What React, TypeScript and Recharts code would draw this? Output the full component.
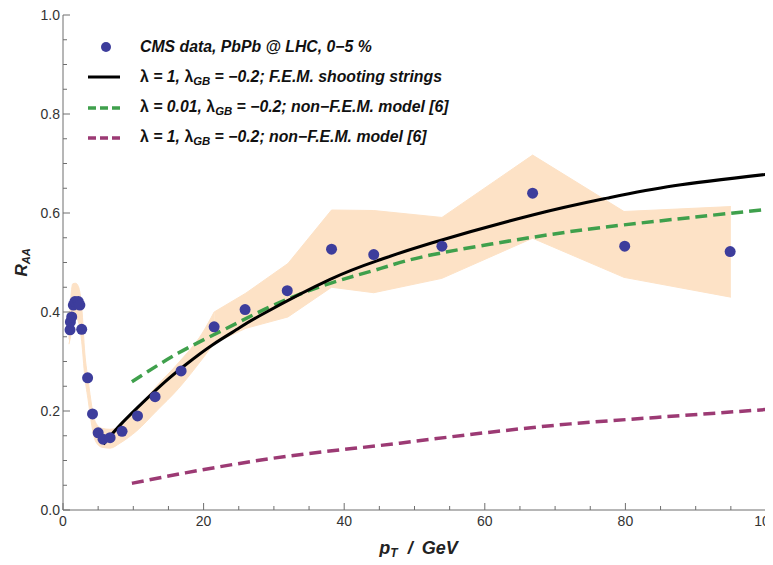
import { ComposedChart, XAxis, YAxis, Line, Area, Scatter } from 'recharts';

// CMS points (pT in GeV, R_AA)
const cmsPt = [1.0, 1.05, 1.24, 1.47, 1.7, 2.18, 2.4, 2.66, 3.5, 4.2, 5.0, 5.7, 6.7, 8.4, 10.6, 13.1, 16.8, 21.5, 25.9, 31.9, 38.2, 44.2, 53.9, 66.8, 79.9, 94.9];
const cmsRaa = [0.364, 0.38, 0.39, 0.414, 0.421, 0.421, 0.414, 0.365, 0.267, 0.194, 0.156, 0.143, 0.146, 0.159, 0.19, 0.229, 0.281, 0.37, 0.405, 0.443, 0.527, 0.516, 0.533, 0.64, 0.533, 0.522];

// uncertainty band, low pT part (smooth)
const bandLowPt = [0.85, 1.0, 1.4, 1.8, 2.2, 2.66, 3.1, 3.6, 4.1, 4.6, 5.5, 6.7, 8.1, 10.5, 13.3, 16.4, 19.8, 21.5];
const bandLowLo = [0.335, 0.345, 0.37, 0.39, 0.38, 0.34, 0.27, 0.22, 0.17, 0.14, 0.127, 0.125, 0.135, 0.16, 0.2, 0.245, 0.305, 0.337];
const bandLowHi = [0.345, 0.4, 0.457, 0.458, 0.451, 0.41, 0.317, 0.26, 0.209, 0.178, 0.165, 0.163, 0.168, 0.205, 0.25, 0.297, 0.357, 0.4];

// uncertainty band, high pT part (straight segments)
const bandHighPt = [21.5, 26, 32, 38.2, 44.2, 53.9, 66.8, 79.8, 95];
const bandHighLo = [0.337, 0.367, 0.39, 0.45, 0.439, 0.468, 0.549, 0.47, 0.43];
const bandHighHi = [0.4, 0.438, 0.498, 0.606, 0.605, 0.591, 0.717, 0.603, 0.613];

// F.E.M. shooting strings, lambda = 1
const femPt = [5.74, 8.35, 11.7, 14.5, 17.4, 21.2, 25, 28.3, 38, 45.2, 52.3, 66.8, 77.4, 86.9, 100];
const femRaa = [0.133, 0.175, 0.222, 0.259, 0.293, 0.333, 0.367, 0.395, 0.466, 0.506, 0.539, 0.596, 0.63, 0.655, 0.678];

// non-F.E.M. model, lambda = 0.01
const greenPt = [9.8, 16.4, 23, 30, 38, 45.2, 52.3, 66.8, 79.8, 100];
const greenRaa = [0.259, 0.317, 0.365, 0.414, 0.458, 0.488, 0.515, 0.551, 0.576, 0.607];

// non-F.E.M. model, lambda = 1
const purplePt = [9.8, 17.4, 29.6, 47.9, 60, 72.2, 84.4, 100];
const purpleRaa = [0.054, 0.075, 0.104, 0.135, 0.156, 0.174, 0.187, 0.203];

const xTicks = [0, 5, 10, 15, 20, 25, 30, 35, 40, 45, 50, 55, 60, 65, 70, 75, 80, 85, 90, 95, 100];
const yTicks = [0, 0.05, 0.1, 0.15, 0.2, 0.25, 0.3, 0.35, 0.4, 0.45, 0.5, 0.55, 0.6, 0.65, 0.7, 0.75, 0.8, 0.85, 0.9, 0.95, 1.0];

const cmsData = cmsPt.map((x, i) => ({ x, y: cmsRaa[i] }));
const bandLowData = bandLowPt.map((x, i) => ({ x, band: [bandLowLo[i], bandLowHi[i]] }));
const bandHighData = bandHighPt.map((x, i) => ({ x, band: [bandHighLo[i], bandHighHi[i]] }));
const femData = femPt.map((x, i) => ({ x, y: femRaa[i] }));
const greenData = greenPt.map((x, i) => ({ x, y: greenRaa[i] }));
const purpleData = purplePt.map((x, i) => ({ x, y: purpleRaa[i] }));

const FONT = '"Liberation Sans", Arial, sans-serif';
const AXIS = '#6e6e6e';
const LABEL = '#333';
const BAND = '#fde2c6';

const isMajorX = (v: number) => v % 20 === 0;
const isMajorY = (v: number) => Math.abs(v * 5 - Math.round(v * 5)) < 1e-6;

const BottomTick = ({ x, y, payload }: any) => {
  const major = isMajorX(payload.value);
  return (
    <g>
      <line x1={x} x2={x} y1={y} y2={y - (major ? 7 : 4)} stroke={AXIS} />
      {major && (
        <text x={x} y={y + 16} textAnchor="middle" fontSize={14} fontFamily={FONT} fill={LABEL}>
          {payload.value}
        </text>
      )}
    </g>
  );
};

const TopTick = ({ x, y, payload }: any) => {
  const major = isMajorX(payload.value);
  return <line x1={x} x2={x} y1={y} y2={y + (major ? 7 : 4)} stroke={AXIS} />;
};

const LeftTick = ({ x, y, payload }: any) => {
  const major = isMajorY(payload.value);
  return (
    <g>
      <line x1={x} x2={x + (major ? 7 : 4)} y1={y} y2={y} stroke={AXIS} />
      {major && (
        <text x={x - 3} y={y + 5} textAnchor="end" fontSize={14} fontFamily={FONT} fill={LABEL}>
          {payload.value.toFixed(1)}
        </text>
      )}
    </g>
  );
};

const RightTick = ({ x, y, payload }: any) => {
  const major = isMajorY(payload.value);
  return <line x1={x} x2={x - (major ? 7 : 4)} y1={y} y2={y} stroke={AXIS} />;
};

const XTitle = ({ viewBox }: any) => (
  <text
    x={viewBox.x + viewBox.width / 2 + 4}
    y={viewBox.y + 44}
    textAnchor="middle"
    fontSize={18}
    fontWeight="bold"
    fontStyle="italic"
    fontFamily={FONT}
    fill="#222"
  >
    p<tspan fontSize={12} dy={3}>T</tspan>
    <tspan dy={-3} dx={5}> / </tspan>
    <tspan dx={4}>GeV</tspan>
  </text>
);

const YTitle = ({ viewBox }: any) => {
  const cx = 19;
  const cy = viewBox.y + viewBox.height / 2;
  return (
    <text
      transform={`translate(${cx},${cy}) rotate(-90)`}
      textAnchor="middle"
      fontSize={17}
      fontWeight="bold"
      fontStyle="italic"
      fontFamily={FONT}
      fill="#222"
    >
      R<tspan fontSize={11} dy={3}>AA</tspan>
    </text>
  );
};

const sub = { fontSize: '0.72em', verticalAlign: '-0.3em' } as const;
const greek = { fontStyle: 'normal' } as const;

const legendRows = [
  { kind: 'dot', color: '#3d3d9c', text: <>CMS data, PbPb @ LHC, 0−5 %</> },
  { kind: 'solid', color: '#000', text: <><span style={greek}>λ</span> = 1, <span style={greek}>λ</span><span style={sub}>GB</span> = −0.2; F.E.M. shooting strings</> },
  { kind: 'dash', color: '#3fa04c', text: <><span style={greek}>λ</span> = 0.01, <span style={greek}>λ</span><span style={sub}>GB</span> = −0.2; non−F.E.M. model [6]</> },
  { kind: 'dash', color: '#9c3a74', text: <><span style={greek}>λ</span> = 1, <span style={greek}>λ</span><span style={sub}>GB</span> = −0.2; non−F.E.M. model [6]</> },
];

export default function App() {
  return (
    <div style={{ position: 'relative', width: 765, height: 557, marginBottom: -8 }}>
      <ComposedChart width={765} height={557} margin={{ top: 7, right: 7, left: 0, bottom: 0 }}>
        <XAxis
          xAxisId="b"
          dataKey="x"
          type="number"
          domain={[0, 100]}
          ticks={xTicks}
          interval={0}
          allowDataOverflow
          height={55}
          tickSize={0}
          tickMargin={0}
          tickLine={false}
          axisLine={{ stroke: AXIS }}
          tick={<BottomTick />}
          label={<XTitle />}
        />
        <XAxis
          xAxisId="t"
          orientation="top"
          dataKey="x"
          type="number"
          domain={[0, 100]}
          ticks={xTicks}
          interval={0}
          height={0}
          tickSize={0}
          tickMargin={0}
          tickLine={false}
          axisLine={{ stroke: AXIS }}
          tick={<TopTick />}
        />
        <YAxis
          yAxisId="l"
          type="number"
          domain={[0, 1]}
          ticks={yTicks}
          interval={0}
          allowDataOverflow
          width={55}
          tickSize={0}
          tickMargin={0}
          tickLine={false}
          axisLine={{ stroke: AXIS }}
          tick={<LeftTick />}
          label={<YTitle />}
        />
        <YAxis
          yAxisId="r"
          orientation="right"
          type="number"
          domain={[0, 1]}
          ticks={yTicks}
          interval={0}
          width={0}
          tickSize={0}
          tickMargin={0}
          tickLine={false}
          axisLine={{ stroke: AXIS }}
          tick={<RightTick />}
        />
        <Area
          xAxisId="b"
          yAxisId="l"
          data={bandLowData}
          dataKey="band"
          type="monotone"
          stroke={BAND}
          strokeWidth={1}
          fill={BAND}
          fillOpacity={1}
          isAnimationActive={false}
        />
        <Area
          xAxisId="b"
          yAxisId="l"
          data={bandHighData}
          dataKey="band"
          type="linear"
          stroke={BAND}
          strokeWidth={1}
          fill={BAND}
          fillOpacity={1}
          isAnimationActive={false}
        />
        <Line
          xAxisId="b"
          yAxisId="l"
          data={purpleData}
          dataKey="y"
          type="monotone"
          stroke="#9c3a74"
          strokeWidth={3.5}
          strokeDasharray="12 6"
          dot={false}
          isAnimationActive={false}
        />
        <Line
          xAxisId="b"
          yAxisId="l"
          data={greenData}
          dataKey="y"
          type="natural"
          stroke="#3fa04c"
          strokeWidth={3.5}
          strokeDasharray="12 6"
          dot={false}
          isAnimationActive={false}
        />
        <Scatter
          xAxisId="b"
          yAxisId="l"
          data={cmsData}
          dataKey="y"
          fill="#3d3d9c"
          shape={(p: any) => <circle cx={p.cx} cy={p.cy} r={5.5} fill="#3d3d9c" />}
          isAnimationActive={false}
        />
        <Line
          xAxisId="b"
          yAxisId="l"
          data={femData}
          dataKey="y"
          type="natural"
          stroke="#000"
          strokeWidth={3}
          dot={false}
          isAnimationActive={false}
        />
      </ComposedChart>
      <div style={{ position: 'absolute', left: 76, top: 24, fontFamily: FONT, fontWeight: 'bold', fontStyle: 'italic', fontSize: 15.8, color: '#111' }}>
        {legendRows.map((r, i) => (
          <div key={i} style={{ display: 'flex', alignItems: 'center', height: 30.3 }}>
            <svg width={56} height={12} style={{ flex: 'none' }}>
              {r.kind === 'dot' && <circle cx={22} cy={6} r={5} fill={r.color} />}
              {r.kind === 'solid' && <line x1={4} x2={36} y1={6} y2={6} stroke={r.color} strokeWidth={3} />}
              {r.kind === 'dash' && <line x1={4} x2={36} y1={6} y2={6} stroke={r.color} strokeWidth={3.5} strokeDasharray="8 4" />}
            </svg>
            <span style={{ whiteSpace: 'nowrap' }}>{r.text}</span>
          </div>
        ))}
      </div>
    </div>
  );
}
